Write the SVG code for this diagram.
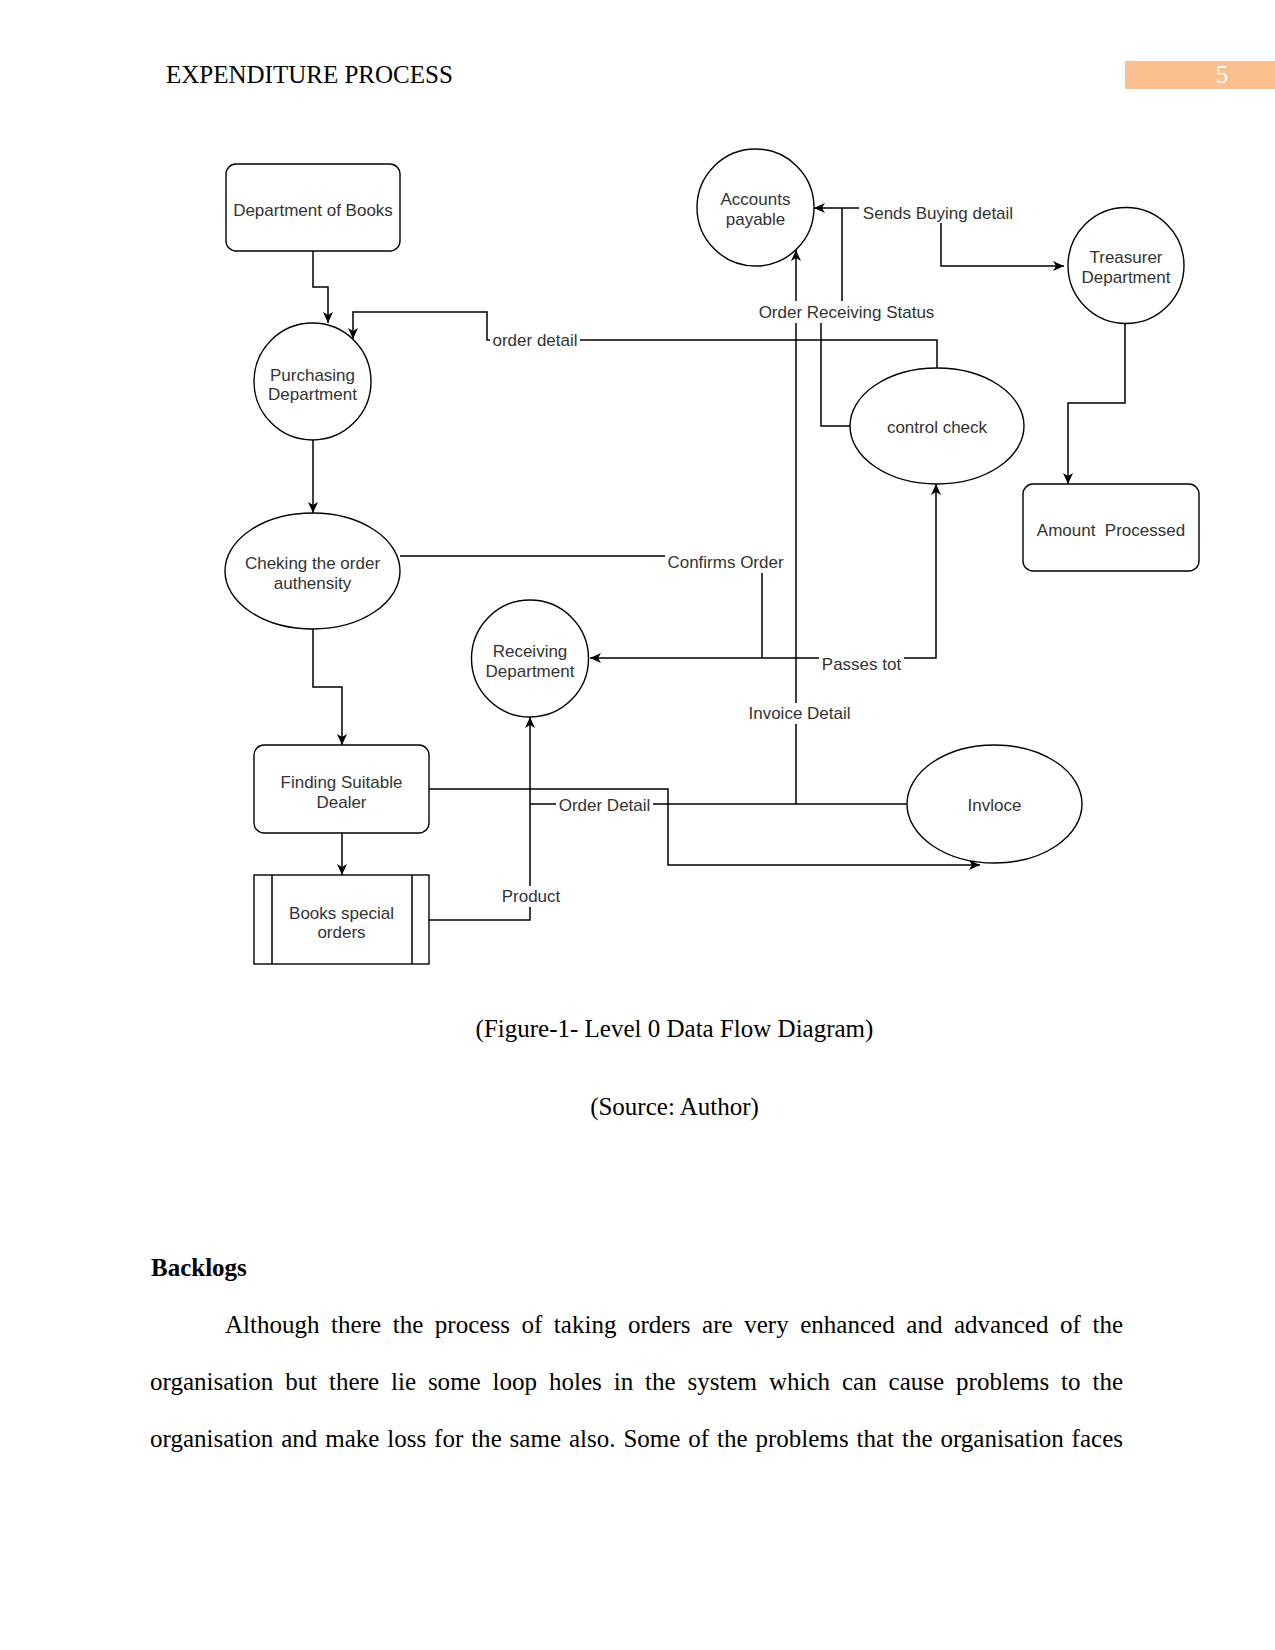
<svg xmlns="http://www.w3.org/2000/svg" width="1275" height="1650" viewBox="0 0 1275 1650">
<style>
.page{font-family:"Liberation Serif","Times New Roman",serif;font-size:25px;fill:#000}
.n{fill:#fff;stroke:#000;stroke-width:1.4}
.t{font-family:"Liberation Sans",Arial,sans-serif;font-size:17px;fill:#333;text-anchor:middle;white-space:pre}
.c{fill:none;stroke:#000;stroke-width:1.5}
.lb{fill:#fff;stroke:none}
</style>
<defs>
<marker id="arr" markerWidth="12" markerHeight="10" refX="11" refY="5" orient="auto-start-reverse" markerUnits="userSpaceOnUse">
<path d="M0,0 L11,5 L0,10 L3,5 z" fill="#000"/>
</marker>
</defs>
<rect width="1275" height="1650" fill="#fff"/>
<g id="header">
<text class="page" x="166" y="83">EXPENDITURE PROCESS</text>
<rect x="1125" y="61" width="150" height="28" fill="#FAC090"/>
<text class="page" x="1222" y="83" style="fill:#fff" text-anchor="middle">5</text>
</g>
<g id="connectors">
<path class="c" d="M313,251 V287 H328 V323" marker-end="url(#arr)"/>
<path class="c" d="M937,368 V340 H487 V312 H353 V339" marker-end="url(#arr)"/>
<path class="c" d="M313,440 V513" marker-end="url(#arr)"/>
<path class="c" d="M313,629 V687 H342 V745" marker-end="url(#arr)"/>
<path class="c" d="M342,833 V875" marker-end="url(#arr)"/>
<path class="c" d="M429,920 H530 V717" marker-end="url(#arr)"/>
<path class="c" d="M530,804 H907"/>
<path class="c" d="M796,804 V250" marker-end="url(#arr)"/>
<path class="c" d="M429,789 H668 V865 H980" marker-end="url(#arr)"/>
<path class="c" d="M400,556 H762 V658"/>
<path class="c" d="M590,658 H936 V484" marker-start="url(#arr)" marker-end="url(#arr)"/>
<path class="c" d="M850,426 H821 V312 H842 V208"/>
<path class="c" d="M814,208 H941 V266 H1064" marker-start="url(#arr)" marker-end="url(#arr)"/>
<path class="c" d="M1125,323 V403 H1068 V484" marker-end="url(#arr)"/>
<g id="lbl-order-detail"><rect class="lb" x="490" y="330" width="90" height="20"/><text class="t" x="535" y="346">order detail</text></g>
<g id="lbl-sends"><rect class="lb" x="859" y="201" width="158" height="22"/><text class="t" x="938" y="219">Sends Buying detail</text></g>
<g id="lbl-ors"><rect class="lb" x="755" y="301" width="183" height="22"/><text class="t" x="846.5" y="318">Order Receiving Status</text></g>
<g id="lbl-confirms"><rect class="lb" x="665" y="550" width="121" height="23"/><text class="t" x="725.5" y="568">Confirms Order</text></g>
<g id="lbl-passes"><rect class="lb" x="819" y="652" width="85" height="24"/><text class="t" x="861.5" y="670">Passes tot</text></g>
<g id="lbl-invoice"><rect class="lb" x="745" y="703" width="110" height="21"/><text class="t" x="799.5" y="719">Invoice Detail</text></g>
<g id="lbl-orderdetail2"><rect class="lb" x="556" y="795" width="97" height="20"/><text class="t" x="604.5" y="811">Order Detail</text></g>
<g id="lbl-product"><rect class="lb" x="500" y="886" width="62" height="21"/><text class="t" x="531" y="902">Product</text></g>
</g>
<g id="node-dept-books"><rect class="n" x="226" y="164" width="174" height="87" rx="10"/><text class="t" x="313" y="216">Department of Books</text></g>
<g id="node-purchasing"><circle class="n" cx="312.5" cy="381.5" r="58.5"/><text class="t" x="312.5" y="381">Purchasing</text><text class="t" x="312.5" y="400">Department</text></g>
<g id="node-accounts"><circle class="n" cx="755.5" cy="207.5" r="58.5"/><text class="t" x="755.5" y="205">Accounts</text><text class="t" x="755.5" y="225">payable</text></g>
<g id="node-treasurer"><circle class="n" cx="1126" cy="265.5" r="58"/><text class="t" x="1126" y="263">Treasurer</text><text class="t" x="1126" y="283">Department</text></g>
<g id="node-control"><ellipse class="n" cx="937" cy="426" rx="87" ry="58"/><text class="t" x="937" y="433">control check</text></g>
<g id="node-amount"><rect class="n" x="1023" y="484" width="176" height="87" rx="10"/><text class="t" x="1111" y="536">Amount  Processed</text></g>
<g id="node-cheking"><ellipse class="n" cx="312.5" cy="571" rx="87.5" ry="58"/><text class="t" x="312.5" y="569">Cheking the order</text><text class="t" x="312.5" y="589">authensity</text></g>
<g id="node-receiving"><circle class="n" cx="530" cy="658.5" r="58.5"/><text class="t" x="530" y="657">Receiving</text><text class="t" x="530" y="677">Department</text></g>
<g id="node-finding"><rect class="n" x="254" y="745" width="175" height="88" rx="10"/><text class="t" x="341.5" y="788">Finding Suitable</text><text class="t" x="341.5" y="808">Dealer</text></g>
<g id="node-books-special"><rect class="n" x="254" y="875" width="175" height="89"/><line class="c" x1="272" y1="875" x2="272" y2="964"/><line class="c" x1="412" y1="875" x2="412" y2="964"/><text class="t" x="341.5" y="919">Books special</text><text class="t" x="341.5" y="938">orders</text></g>
<g id="node-invoice"><ellipse class="n" cx="994.5" cy="804" rx="87.5" ry="59"/><text class="t" x="994.5" y="811">Invloce</text></g>
<g id="caption">
<text class="page" x="674.5" y="1037" text-anchor="middle">(Figure-1- Level 0 Data Flow Diagram)</text>
<text class="page" x="674.5" y="1115" text-anchor="middle">(Source: Author)</text>
</g>
<g id="body">
<text class="page" x="151" y="1276" font-weight="bold">Backlogs</text>
<text class="page" x="225" y="1333" word-spacing="5.3" textLength="898" lengthAdjust="spacing">Although there the process of taking orders are very enhanced and advanced of the</text>
<text class="page" x="150" y="1390" word-spacing="5.6" textLength="973" lengthAdjust="spacing">organisation but there lie some loop holes in the system which can cause problems to the</text>
<text class="page" x="150" y="1447" word-spacing="1.6" textLength="973" lengthAdjust="spacing">organisation and make loss for the same also. Some of the problems that the organisation faces</text>
</g>
</svg>
